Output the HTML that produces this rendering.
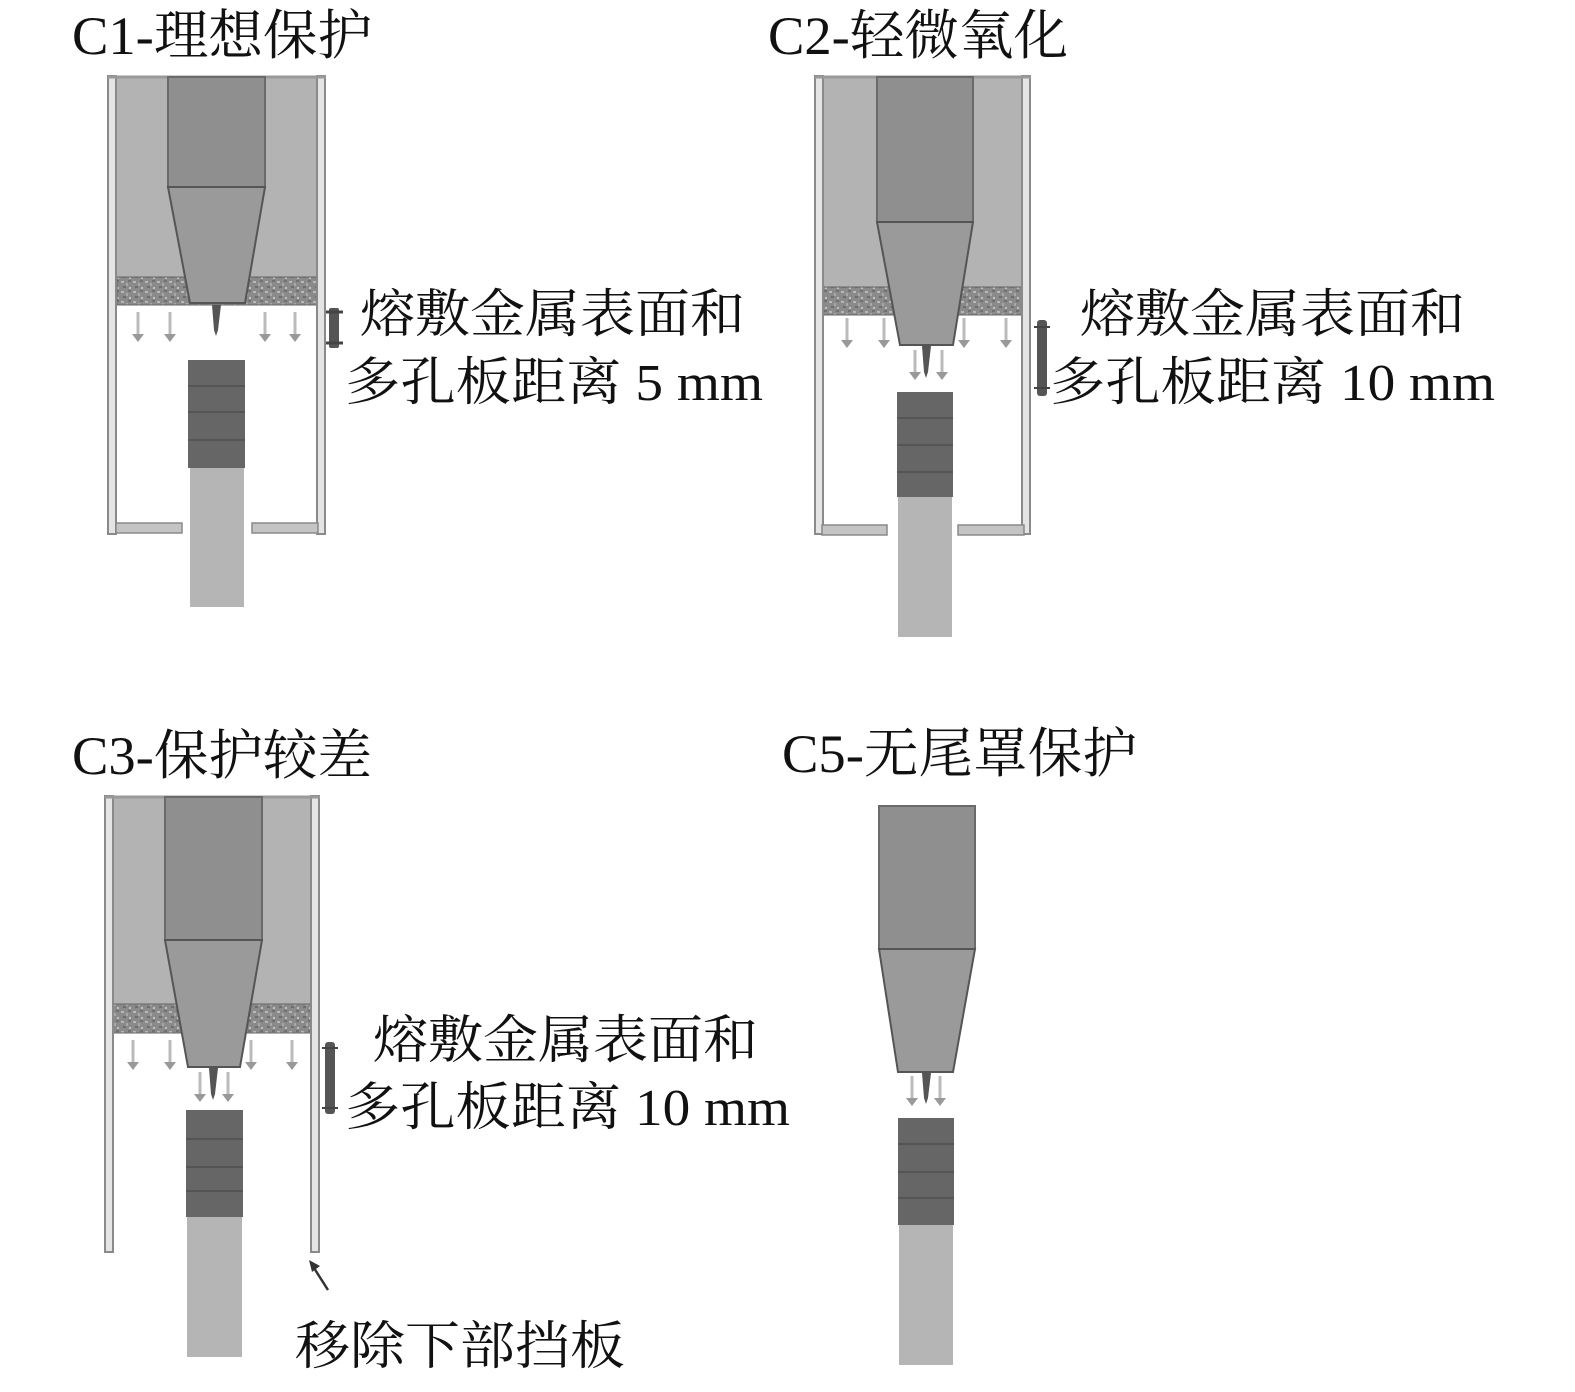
<!DOCTYPE html>
<html><head><meta charset="utf-8"><style>
html,body{margin:0;padding:0;background:#fff}
svg{display:block}
text{font-family:"Liberation Serif","Noto Serif CJK SC",serif;fill:#111}
</style></head><body>
<svg width="1575" height="1392" viewBox="0 0 1575 1392" xmlns="http://www.w3.org/2000/svg">
<defs>
<pattern id="por" width="12" height="10" patternUnits="userSpaceOnUse">
<rect width="12" height="10" fill="#8a8a8a"/>
<rect x="1" y="1" width="3" height="2" fill="#b8b8b8"/>
<rect x="6" y="3" width="2" height="3" fill="#a8a8a8"/>
<rect x="3" y="6" width="3" height="2" fill="#6e6e6e"/>
<rect x="9" y="7" width="2" height="2" fill="#c0c0c0"/>
<rect x="8" y="0" width="3" height="2" fill="#707070"/>
</pattern>
<g id="arr"><line x1="0" y1="0" x2="0" y2="24" stroke="#bbb" stroke-width="3"/><path d="M-6 22 L6 22 L0 30 Z" fill="#999"/></g>
</defs>

<!-- Titles -->
<text x="72" y="54" font-size="54" textLength="300" lengthAdjust="spacingAndGlyphs">C1-理想保护</text>
<text x="768" y="54" font-size="54" textLength="300" lengthAdjust="spacingAndGlyphs">C2-轻微氧化</text>
<text x="72" y="774" font-size="54" textLength="300" lengthAdjust="spacingAndGlyphs">C3-保护较差</text>
<text x="782" y="772" font-size="54" textLength="355" lengthAdjust="spacingAndGlyphs">C5-无尾罩保护</text>

<!-- C1 -->
<g>
<rect x="117" y="77" width="200" height="200" fill="#b3b3b3"/>
<rect x="117" y="277" width="200" height="28" fill="url(#por)" stroke="#666" stroke-width="1"/>
<rect x="108" y="76" width="8" height="458" fill="#e4e4e4" stroke="#8a8a8a" stroke-width="2"/>
<rect x="317" y="76" width="8" height="458" fill="#e4e4e4" stroke="#8a8a8a" stroke-width="2"/>
<line x1="108" y1="77" x2="326" y2="77" stroke="#999" stroke-width="3"/>
<rect x="168" y="77" width="97" height="110" fill="#8f8f8f" stroke="#6a6a6a" stroke-width="2"/>
<path d="M168 187 L265 187 L245 303 L190 303 Z" fill="#9a9a9a" stroke="#555" stroke-width="2"/>
<path d="M212 305 L221 305 L218 330 L216 336 L214 330 Z" fill="#555"/>
<use href="#arr" x="138" y="312"/><use href="#arr" x="170" y="312"/><use href="#arr" x="265" y="312"/><use href="#arr" x="295" y="312"/>
<rect x="329" y="308" width="10" height="40" fill="#555" rx="2"/>
<line x1="326" y1="312" x2="343" y2="312" stroke="#444" stroke-width="3"/><line x1="326" y1="343" x2="343" y2="343" stroke="#444" stroke-width="3"/>
<rect x="188" y="360" width="57" height="108" fill="#666"/>
<line x1="188" y1="386" x2="245" y2="386" stroke="#555" stroke-width="2"/><line x1="188" y1="412" x2="245" y2="412" stroke="#555" stroke-width="2"/><line x1="188" y1="440" x2="245" y2="440" stroke="#555" stroke-width="2"/>
<rect x="190" y="468" width="54" height="139" fill="#b5b5b5"/>
<rect x="116" y="523" width="66" height="10" fill="#c4c4c4" stroke="#8a8a8a" stroke-width="1.5"/>
<rect x="252" y="523" width="66" height="10" fill="#c4c4c4" stroke="#8a8a8a" stroke-width="1.5"/>
<text x="360" y="332" font-size="52" textLength="385" lengthAdjust="spacingAndGlyphs">熔敷金属表面和</text>
<text x="345" y="400" font-size="52" textLength="418" lengthAdjust="spacingAndGlyphs">多孔板距离 5 mm</text>
</g>

<!-- C2 -->
<g>
<rect x="823" y="77" width="199" height="210" fill="#b3b3b3"/>
<rect x="823" y="287" width="199" height="28" fill="url(#por)" stroke="#666" stroke-width="1"/>
<rect x="815" y="76" width="8" height="458" fill="#e4e4e4" stroke="#8a8a8a" stroke-width="2"/>
<rect x="1022" y="76" width="8" height="458" fill="#e4e4e4" stroke="#8a8a8a" stroke-width="2"/>
<line x1="815" y1="77" x2="1031" y2="77" stroke="#999" stroke-width="3"/>
<rect x="877" y="77" width="96" height="145" fill="#8f8f8f" stroke="#6a6a6a" stroke-width="2"/>
<path d="M877 222 L973 222 L953 345 L900 345 Z" fill="#9a9a9a" stroke="#555" stroke-width="2"/>
<path d="M922 346 L931 346 L928 372 L926 378 L924 372 Z" fill="#555"/>
<use href="#arr" x="847" y="318"/><use href="#arr" x="884" y="318"/><use href="#arr" x="964" y="318"/><use href="#arr" x="1006" y="318"/>
<use href="#arr" x="915" y="350"/><use href="#arr" x="942" y="350"/>
<rect x="1037" y="320" width="10" height="76" fill="#555" rx="3"/>
<line x1="1034" y1="327" x2="1050" y2="327" stroke="#444" stroke-width="2"/><line x1="1034" y1="388" x2="1050" y2="388" stroke="#444" stroke-width="2"/>
<rect x="897" y="392" width="56" height="105" fill="#666"/>
<line x1="897" y1="418" x2="953" y2="418" stroke="#555" stroke-width="2"/><line x1="897" y1="445" x2="953" y2="445" stroke="#555" stroke-width="2"/><line x1="897" y1="472" x2="953" y2="472" stroke="#555" stroke-width="2"/>
<rect x="898" y="497" width="54" height="140" fill="#b5b5b5"/>
<rect x="822" y="525" width="65" height="10" fill="#c4c4c4" stroke="#8a8a8a" stroke-width="1.5"/>
<rect x="958" y="525" width="66" height="10" fill="#c4c4c4" stroke="#8a8a8a" stroke-width="1.5"/>
<text x="1080" y="332" font-size="52" textLength="385" lengthAdjust="spacingAndGlyphs">熔敷金属表面和</text>
<text x="1050" y="400" font-size="52" textLength="445" lengthAdjust="spacingAndGlyphs">多孔板距离 10 mm</text>
</g>

<!-- C3 -->
<g>
<rect x="113" y="797" width="199" height="207" fill="#b3b3b3"/>
<rect x="113" y="1004" width="199" height="29" fill="url(#por)" stroke="#666" stroke-width="1"/>
<rect x="105" y="796" width="8" height="456" fill="#e4e4e4" stroke="#8a8a8a" stroke-width="2"/>
<rect x="311" y="796" width="8" height="456" fill="#e4e4e4" stroke="#8a8a8a" stroke-width="2"/>
<line x1="105" y1="797" x2="320" y2="797" stroke="#999" stroke-width="3"/>
<rect x="165" y="797" width="97" height="143" fill="#8f8f8f" stroke="#6a6a6a" stroke-width="2"/>
<path d="M165 940 L262 940 L240 1067 L188 1067 Z" fill="#9a9a9a" stroke="#555" stroke-width="2"/>
<path d="M209 1068 L218 1068 L215 1094 L213 1100 L211 1094 Z" fill="#555"/>
<use href="#arr" x="133" y="1040"/><use href="#arr" x="170" y="1040"/><use href="#arr" x="251" y="1040"/><use href="#arr" x="292" y="1040"/>
<use href="#arr" x="200" y="1072"/><use href="#arr" x="228" y="1072"/>
<rect x="325" y="1042" width="10" height="72" fill="#555" rx="3"/>
<line x1="322" y1="1048" x2="338" y2="1048" stroke="#444" stroke-width="2"/><line x1="322" y1="1108" x2="338" y2="1108" stroke="#444" stroke-width="2"/>
<rect x="186" y="1110" width="57" height="107" fill="#666"/>
<line x1="186" y1="1139" x2="243" y2="1139" stroke="#555" stroke-width="2"/><line x1="186" y1="1167" x2="243" y2="1167" stroke="#555" stroke-width="2"/><line x1="186" y1="1191" x2="243" y2="1191" stroke="#555" stroke-width="2"/>
<rect x="187" y="1217" width="55" height="140" fill="#b5b5b5"/>
<line x1="328" y1="1290" x2="314" y2="1268" stroke="#333" stroke-width="2.5"/>
<path d="M309 1260 L320 1266 L312 1272 Z" fill="#333"/>
<text x="373" y="1058" font-size="52" textLength="385" lengthAdjust="spacingAndGlyphs">熔敷金属表面和</text>
<text x="345" y="1125" font-size="52" textLength="445" lengthAdjust="spacingAndGlyphs">多孔板距离 10 mm</text>
<text x="295" y="1364" font-size="52" textLength="330" lengthAdjust="spacingAndGlyphs">移除下部挡板</text>
</g>

<!-- C5 -->
<g>
<rect x="879" y="806" width="96" height="143" fill="#8f8f8f" stroke="#6a6a6a" stroke-width="2"/>
<path d="M879 949 L975 949 L953 1072 L898 1072 Z" fill="#9a9a9a" stroke="#555" stroke-width="2"/>
<path d="M922 1073 L931 1073 L928 1098 L926 1104 L924 1098 Z" fill="#555"/>
<use href="#arr" x="912" y="1076"/><use href="#arr" x="940" y="1076"/>
<rect x="898" y="1118" width="56" height="107" fill="#666"/>
<line x1="898" y1="1144" x2="954" y2="1144" stroke="#555" stroke-width="2"/><line x1="898" y1="1172" x2="954" y2="1172" stroke="#555" stroke-width="2"/><line x1="898" y1="1198" x2="954" y2="1198" stroke="#555" stroke-width="2"/>
<rect x="899" y="1225" width="54" height="140" fill="#b5b5b5"/>
</g>
</svg>
</body></html>
